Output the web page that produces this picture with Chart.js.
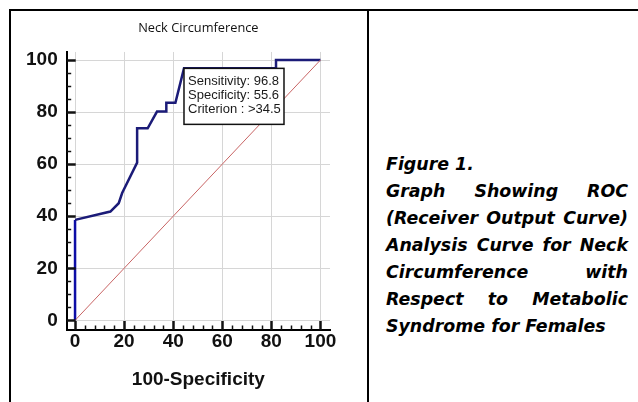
<!DOCTYPE html>
<html>
<head>
<meta charset="utf-8">
<script src="https://cdn.jsdelivr.net/npm/chart.js@4.4.1/dist/chart.umd.min.js"></script>
<style>
  html, body { margin: 0; padding: 0; background: #fff; }
  #page { position: relative; width: 638px; height: 402px; overflow: hidden; }
  #rocChart { position: absolute; left: 0; top: 0; }
  .rule { position: absolute; background: #000; }
  #caption {
    position: absolute; left: 386px; top: 151px; width: 242px;
    font-family: "DejaVu Sans", Verdana, sans-serif; font-weight: bold; font-style: italic;
    font-size: 17.4px; line-height: 27px; color: #000; white-space: nowrap;
  }
  #caption .j { text-align: justify; text-align-last: justify; white-space: normal; }
</style>
</head>
<body>
<div id="page">
  <canvas id="rocChart" width="370" height="402"></canvas>
  <div class="rule" style="left:10px; top:9px; width:628px; height:2px;"></div>
  <div class="rule" style="left:9px; top:9px; width:2px; height:393px;"></div>
  <div class="rule" style="left:367px; top:9px; width:2px; height:393px;"></div>
  <div id="caption">
    <div>Figure 1.</div>
    <div class="j">Graph Showing ROC</div>
    <div class="j">(Receiver Output Curve)</div>
    <div class="j">Analysis Curve for Neck</div>
    <div class="j">Circumference with</div>
    <div class="j">Respect to Metabolic</div>
    <div>Syndrome for Females</div>
  </div>
</div>
<script>
// ROC curve (x = 100 - specificity, y = sensitivity)
const rocX = [0, 0, 14.4, 17.8, 19.2, 25.3, 25.3, 29.6, 33.4, 37.2, 37.2, 40.9, 44.4, 81.9, 81.9, 100];
const rocY = [0, 38.6, 41.8, 45.0, 48.9, 60.6, 73.8, 73.8, 80.2, 80.2, 83.6, 83.6, 96.8, 96.8, 100, 100];

// reference diagonal
const diagX = [0, 100];
const diagY = [0, 100];

const tickValues = [0, 20, 40, 60, 80, 100];

// best cut-off
const sensitivity = 96.8;
const specificity = 55.6;
const criterion = '>34.5';

const toPoints = (xs, ys) => xs.map((x, i) => ({ x: x, y: ys[i] }));

// small inward ticks on both axes (major + minor)
const innerTicks = {
    id: 'innerTicks',
    afterDraw(chart) {
        const { ctx, scales: { x, y } } = chart;
        const x0 = x.left, yb = y.bottom;
        ctx.save();
        ctx.strokeStyle = '#111';
        ctx.lineCap = 'butt';
        for (let v = 0; v <= 100; v += 4) {
            const major = v % 20 === 0;
            const px = Math.round(x.getPixelForValue(v)) + 0.5;
            ctx.lineWidth = major ? 2.5 : 1.5;
            ctx.beginPath();
            ctx.moveTo(px, yb);
            ctx.lineTo(px, yb - (major ? 9 : 4.5));
            ctx.stroke();
        }
        for (let v = 0; v <= 100; v += 5) {
            const major = v % 20 === 0;
            const py = Math.round(y.getPixelForValue(v)) + 0.5;
            ctx.lineWidth = major ? 2.5 : 1.5;
            ctx.beginPath();
            ctx.moveTo(x0, py);
            ctx.lineTo(x0 + (major ? 9 : 4.5), py);
            ctx.stroke();
        }
        ctx.restore();
    }
};

// criterion box, top-left corner sits on the cut-off point
const criterionBox = {
    id: 'criterionBox',
    afterDatasetsDraw(chart) {
        const { ctx, scales: { x, y } } = chart;
        const left = x.getPixelForValue(100 - specificity);
        const top = y.getPixelForValue(sensitivity);
        const w = 100, h = 56;
        ctx.save();
        ctx.fillStyle = '#fff';
        ctx.fillRect(left, top, w, h);
        ctx.strokeStyle = '#111';
        ctx.lineWidth = 1.5;
        ctx.strokeRect(left, top, w, h);
        ctx.fillStyle = '#1a1a1a';
        ctx.font = '13px "Liberation Sans", Arial, sans-serif';
        ctx.textBaseline = 'middle';
        ctx.fillText('Sensitivity: ' + sensitivity, left + 4, top + 13.5);
        ctx.fillText('Specificity: ' + specificity, left + 4, top + 27.5);
        ctx.fillText('Criterion : ' + criterion, left + 4, top + 41.5);
        ctx.restore();
    }
};

const fixedTicks = scale => { scale.ticks = tickValues.map(v => ({ value: v })); };
const tickFont = { family: '"Liberation Sans", Arial, sans-serif', size: 19, weight: 'bold' };

new Chart(document.getElementById('rocChart'), {
    type: 'scatter',
    data: {
        datasets: [
            {
                data: toPoints(diagX, diagY),
                showLine: true,
                borderColor: '#c86464',
                borderWidth: 1,
                pointRadius: 0
            },
            {
                data: toPoints(rocX, rocY),
                showLine: true,
                borderColor: '#1b1b78',
                borderWidth: 2.5,
                pointRadius: 0,
                tension: 0,
                segment: {
                    // the first (vertical) step is drawn in a brighter blue
                    borderColor: ctx => ctx.p0DataIndex === 0 ? '#0d0da6' : undefined
                }
            }
        ]
    },
    options: {
        responsive: false,
        animation: false,
        devicePixelRatio: 1,
        layout: { padding: { left: 0, right: 40, top: 0, bottom: 0 } },
        plugins: {
            legend: { display: false },
            tooltip: { enabled: false },
            title: {
                display: true,
                fullSize: false,
                text: 'Neck Circumference',
                color: '#111',
                font: { family: '"Open Sans", sans-serif', size: 12.8, weight: 'normal', lineHeight: 1.2 },
                padding: { top: 21, bottom: 15.6 }
            }
        },
        scales: {
            x: {
                type: 'linear',
                min: -3.4,
                max: 103.9,
                afterBuildTicks: fixedTicks,
                afterFit: s => { s.height = 72; },
                grid: { color: '#d6d6d6', lineWidth: 1, drawTicks: false },
                border: { display: true, color: '#000', width: 2 },
                ticks: { color: '#111', font: tickFont, padding: 0, maxRotation: 0 },
                title: {
                    display: true,
                    text: '100-Specificity',
                    color: '#111',
                    font: tickFont,
                    padding: { top: 0, bottom: 10.5 }
                }
            },
            y: {
                type: 'linear',
                min: -3.7,
                max: 103.1,
                afterBuildTicks: fixedTicks,
                afterFit: s => { s.width = 66.7; },
                grid: { color: '#d6d6d6', lineWidth: 1, drawTicks: false },
                border: { display: true, color: '#000', width: 2 },
                ticks: { color: '#111', font: tickFont, padding: 9 }
            }
        }
    },
    plugins: [innerTicks, criterionBox]
});
</script>
</body>
</html>
